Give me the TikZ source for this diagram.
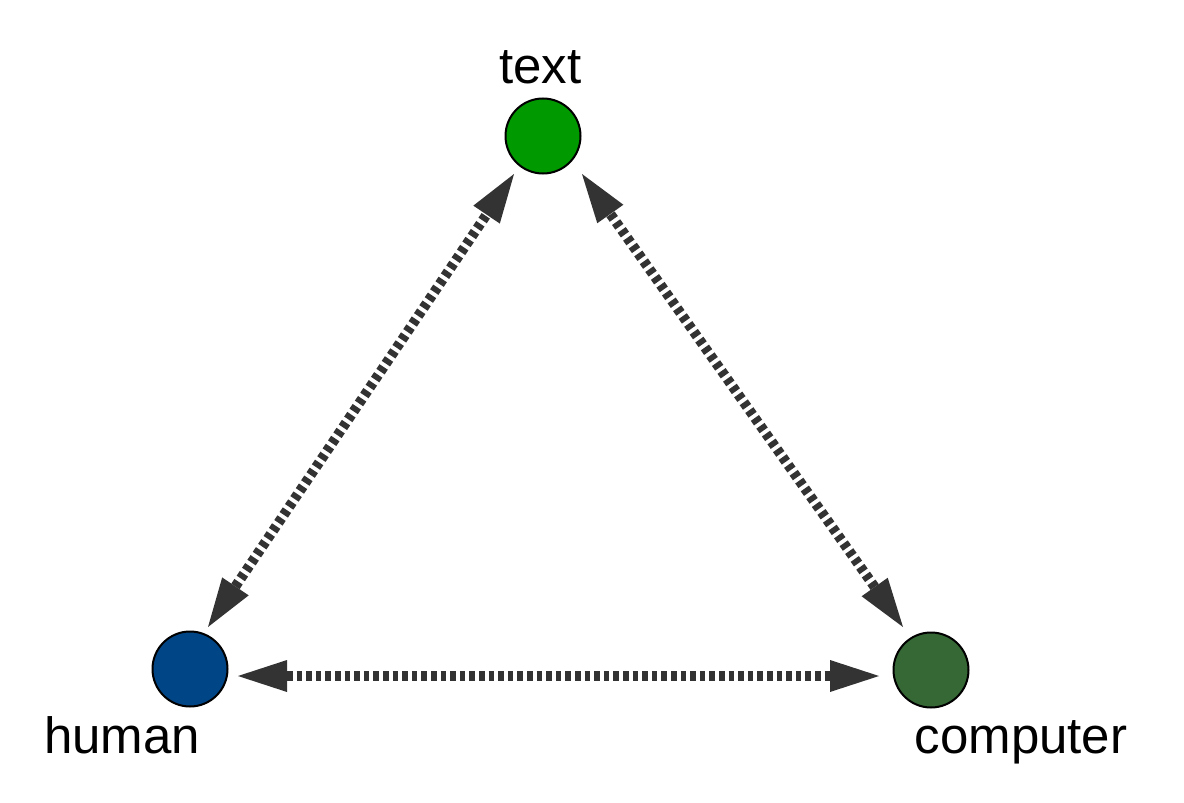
\documentclass[tikz,border=0pt]{standalone}
\usepackage{fontspec}
\setmainfont{Liberation Sans}
\usetikzlibrary{arrows.meta}
\definecolor{arrgray}{HTML}{333333}
\definecolor{textgreen}{HTML}{009900}
\definecolor{humanblue}{HTML}{004586}
\definecolor{compgreen}{HTML}{356835}
\tikzset{
  dot/.style={circle, draw=black, line width=2pt, minimum size=75pt, inner sep=0pt},
  lbl/.style={font=\fontsize{51}{61}\selectfont, inner sep=0pt, anchor=base},
  arr/.style={draw=arrgray, line width=10pt, dash pattern=on 5.6pt off 4pt,
    {Triangle[length=49pt,width=32pt,fill=arrgray,line width=0pt]}-{Triangle[length=49pt,width=32pt,fill=arrgray,line width=0pt]}}
}
\begin{document}
\begin{tikzpicture}[x=1pt,y=-1pt]
\useasboundingbox (0,0) rectangle (1184,803);
\node[dot, fill=textgreen] (t) at (543,136) {};
\node[dot, fill=humanblue] (h) at (190,669) {};
\node[dot, fill=compgreen] (c) at (931,670) {};
\node[lbl] (tl) at (540.5,83) {text};
\node[lbl] (hl) at (122,753) {human};
\node[lbl] (cl) at (1021,753) {computer};
\draw[arr] ([shift={(18,-42)}]h.center) -- ([shift={(-29,38)}]t.center);
\draw[arr] ([shift={(-28,-43)}]c.center) -- ([shift={(39,38)}]t.center);
\draw[arr] ([shift={(48,7)}]h.center) -- ([shift={(-52,6)}]c.center);
\end{tikzpicture}
\end{document}
